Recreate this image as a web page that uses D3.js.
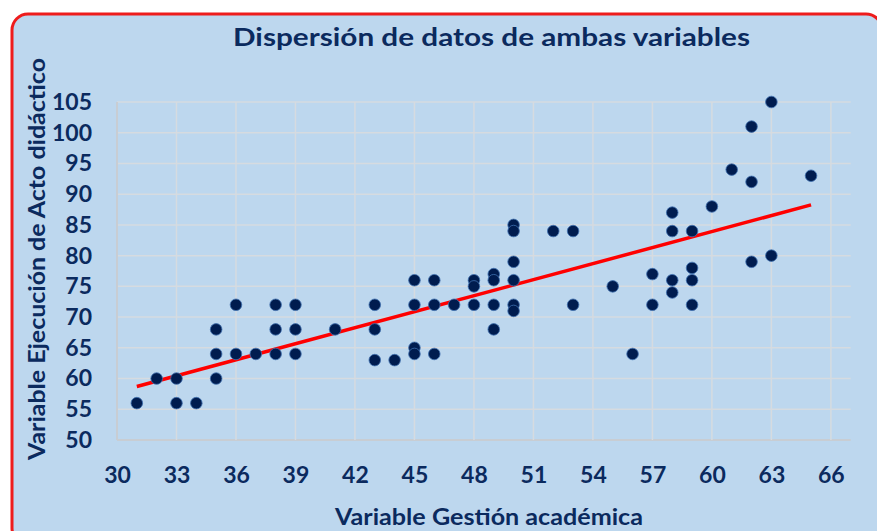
<!DOCTYPE html>
<html><head><meta charset="utf-8">
<script src="https://cdn.jsdelivr.net/npm/d3@7"></script>
<style>body{margin:0;background:#fff;}svg{display:block;}</style>
</head><body>
<script>
const gestion = [31,32,33,33,34,35,35,35,36,36,37,38,38,38,39,39,39,41,43,43,43,44,45,45,45,45,46,46,46,47,48,48,48,49,49,49,49,50,50,50,50,50,50,52,53,53,55,56,57,57,58,58,58,58,59,59,59,59,60,61,62,62,62,63,63,65];
const ejecucion = [56,60,60,56,56,60,64,68,72,64,64,72,68,64,72,68,64,68,72,68,63,63,76,72,65,64,76,72,64,72,76,75,72,77,76,72,68,85,84,79,76,72,71,84,84,72,75,64,77,72,76,74,87,84,78,76,72,84,88,94,101,92,79,105,80,93];
const xTicks = [30,33,36,39,42,45,48,51,54,57,60,63,66];
const yTicks = [50,55,60,65,70,75,80,85,90,95,100,105];
const title = "Dispersión de datos de ambas variables";
const xTitle = "Variable Gestión académica";
const yTitle = "Variable Ejecución de Acto didáctico";

const W = 877, H = 531;
const navy = "#0b2a5e";
const svg = d3.select("body").append("svg").attr("width", W).attr("height", H);
const font = "Lato, 'Open Sans', sans-serif";

const defs = svg.append("defs");
const f = defs.append("filter").attr("id","soft").attr("x","-50%").attr("y","-50%").attr("width","200%").attr("height","200%");
f.append("feGaussianBlur").attr("stdDeviation",0.7);

// background panel
svg.append("rect").attr("x",12).attr("y",14).attr("width",870).attr("height",530)
  .attr("rx",16).attr("fill","#bdd7ee").attr("stroke","#ee1c1c").attr("stroke-width",3);

const x = d3.scaleLinear().domain([30,67]).range([117,850.7]);
const y = d3.scaleLinear().domain([50,105]).range([440,102]);

// grid
const g = svg.append("g");
g.selectAll(".hg").data(yTicks).join("line")
  .attr("x1",x(30)).attr("x2",x(67)).attr("y1",d=>y(d)).attr("y2",d=>y(d))
  .attr("stroke",d=>d===50?"#c8cdd3":"#d6dbe0").attr("stroke-width",d=>d===50?2:1.5);
g.selectAll(".vg").data(xTicks).join("line")
  .attr("x1",d=>x(d)).attr("x2",d=>x(d)).attr("y1",y(105)).attr("y2",y(50))
  .attr("stroke",d=>d===30?"#c8cdd3":"#d6dbe0").attr("stroke-width",d=>d===30?2:1.5);

// axes labels via d3 axes
const xAxis = svg.append("g").attr("transform",`translate(0,${y(50)})`)
  .call(d3.axisBottom(x).tickValues(xTicks).tickSize(0).tickPadding(27));
xAxis.select(".domain").remove();
xAxis.selectAll("text").attr("font-family",font).attr("font-weight","bold").attr("font-size",23).attr("fill",navy);

const yAxis = svg.append("g").attr("transform",`translate(${x(30)},0)`)
  .call(d3.axisLeft(y).tickValues(yTicks).tickSize(0).tickPadding(25));
yAxis.select(".domain").remove();
yAxis.selectAll("text").attr("font-family",font).attr("font-weight","bold").attr("font-size",23).attr("fill",navy);

// trend line (least squares)
const n = gestion.length;
const mx = d3.mean(gestion), my = d3.mean(ejecucion);
let sxy=0,sxx=0;
for(let i=0;i<n;i++){sxy+=(gestion[i]-mx)*(ejecucion[i]-my);sxx+=(gestion[i]-mx)**2;}
const b = sxy/sxx, a = my - b*mx;
const x0 = d3.min(gestion), x1 = d3.max(gestion);
svg.append("line").attr("x1",x(x0)).attr("y1",y(a+b*x0)).attr("x2",x(x1)).attr("y2",y(a+b*x1))
  .attr("stroke","#ff0000").attr("stroke-width",3.5);

// points
svg.append("g").selectAll("circle").data(gestion.map((d,i)=>[d,ejecucion[i]])).join("circle")
  .attr("cx",d=>x(d[0])).attr("cy",d=>y(d[1])).attr("r",5.8)
  .attr("fill","#021d4f").attr("stroke","#3e6fae").attr("stroke-width",0.8).attr("filter","url(#soft)");

// titles
svg.append("text").attr("x",491.5).attr("y",46).attr("text-anchor","middle")
  .attr("textLength",517).attr("lengthAdjust","spacingAndGlyphs")
  .attr("font-family",font).attr("font-weight","bold").attr("font-size",25).attr("fill",navy).text(title);
svg.append("text").attr("x",489).attr("y",525).attr("text-anchor","middle")
  .attr("textLength",308).attr("lengthAdjust","spacingAndGlyphs")
  .attr("font-family",font).attr("font-weight","bold").attr("font-size",22).attr("fill",navy).text(xTitle);
svg.append("text").attr("transform","translate(45,259) rotate(-90)").attr("text-anchor","middle")
  .attr("textLength",402).attr("lengthAdjust","spacingAndGlyphs")
  .attr("font-family",font).attr("font-weight","bold").attr("font-size",22).attr("fill",navy).text(yTitle);
</script>
</body></html>
